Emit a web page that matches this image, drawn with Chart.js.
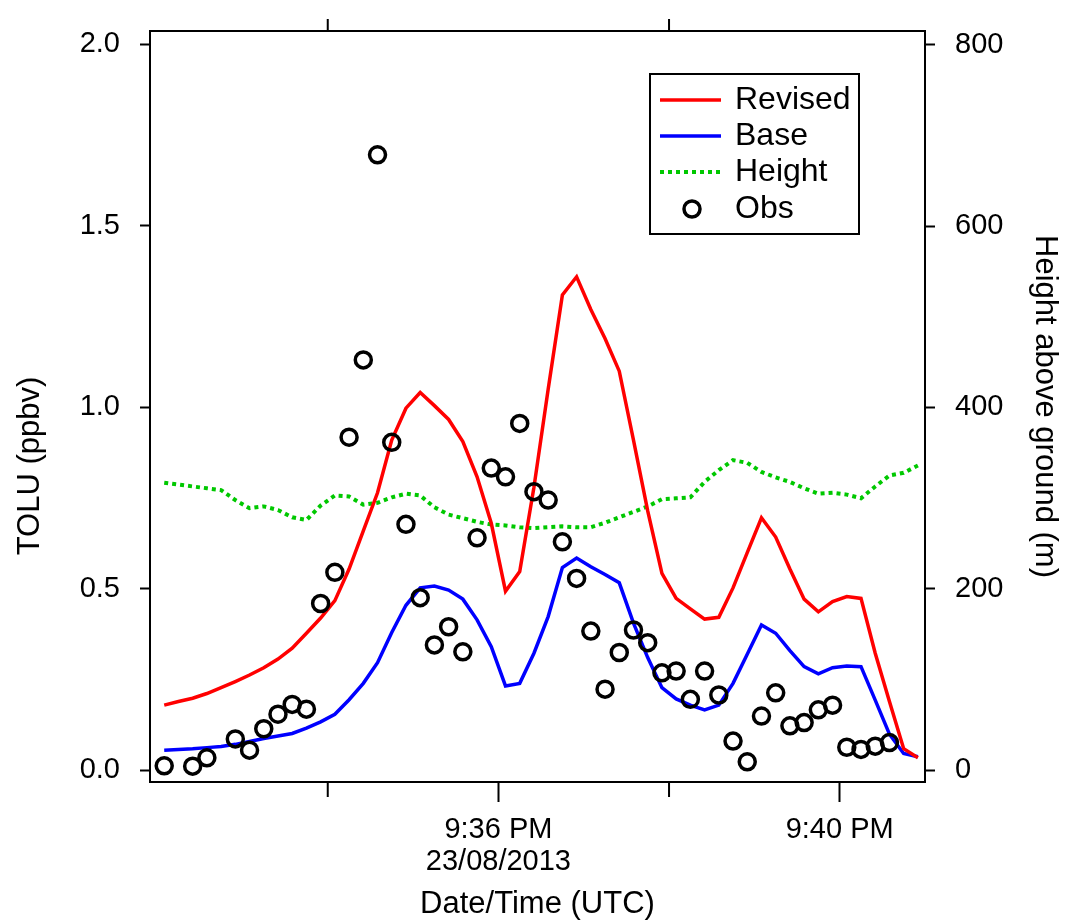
<!DOCTYPE html>
<html><head><meta charset="utf-8">
<script src="https://cdn.jsdelivr.net/npm/chart.js@4"></script>
<style>html,body{margin:0;padding:0;background:#fff;}#wrap{width:1067px;height:923px;position:relative;}</style>
</head><body><div id="wrap"><canvas id="c"></canvas></div>
<script>
// Time stamps (UTC, 23/08/2013)
const times = [
 "21:32:05","21:32:15","21:32:25","21:32:35","21:32:45","21:32:55",
 "21:33:05","21:33:15","21:33:25","21:33:35","21:33:45","21:33:55",
 "21:34:05","21:34:15","21:34:25","21:34:35","21:34:45","21:34:55",
 "21:35:05","21:35:15","21:35:25","21:35:35","21:35:45","21:35:55",
 "21:36:05","21:36:15","21:36:25","21:36:35","21:36:45","21:36:55",
 "21:37:05","21:37:15","21:37:25","21:37:35","21:37:45","21:37:55",
 "21:38:05","21:38:15","21:38:25","21:38:35","21:38:45","21:38:55",
 "21:39:05","21:39:15","21:39:25","21:39:35","21:39:45","21:39:55",
 "21:40:05","21:40:15","21:40:25","21:40:35","21:40:45","21:40:55"];
const obs = [0.013,null,0.012,0.035,null,0.087,0.056,0.115,0.155,0.182,
 0.169,0.46,0.546,0.918,1.131,1.696,0.904,0.678,0.476,0.346,
 0.396,0.327,0.641,0.833,0.809,0.956,0.768,0.745,0.630,0.529,
 0.384,0.224,0.325,0.387,0.352,0.269,0.274,0.196,0.274,0.208,
 0.081,0.024,0.150,0.214,0.123,0.132,0.167,0.180,0.064,0.058,
 0.067,0.077,null,null];
const revised = [0.180,0.190,0.199,0.212,0.228,0.245,0.263,0.283,0.307,0.337,
 0.378,0.420,0.468,0.555,0.660,0.765,0.910,0.998,1.041,1.005,
 0.967,0.906,0.809,0.681,0.494,0.548,0.780,1.050,1.310,1.360,
 1.270,1.190,1.100,0.910,0.715,0.543,0.474,0.445,0.417,0.422,
 0.503,0.600,0.696,0.643,0.555,0.472,0.437,0.465,0.479,0.474,
 0.323,0.190,0.060,0.035];
const base = [0.056,0.058,0.060,0.063,0.066,0.072,0.080,0.088,0.095,0.102,
 0.117,0.134,0.155,0.195,0.240,0.297,0.380,0.455,0.503,0.508,
 0.497,0.472,0.415,0.341,0.233,0.240,0.323,0.424,0.559,0.585,
 0.561,0.540,0.517,0.406,0.311,0.228,0.197,0.180,0.167,0.180,
 0.240,0.320,0.401,0.378,0.330,0.286,0.266,0.283,0.288,0.286,
 0.194,0.100,0.047,0.038];
const heightAGL = [317,315,313,311,309,298,289,291,287,279,
 276,292,303,302,293,295,301,305,303,290,
 282,278,274,271,270,268,267,268,269,268,
 268,273,279,285,291,299,300,301,318,331,
 342,339,329,323,318,311,305,306,304,300,
 313,325,328,336];
const xMajorTicks = ["21:36:00","21:40:00"];
const xMajorLabels = [["9:36 PM","23/08/2013"],["9:40 PM"]];
const xMinorTicks = ["21:34:00","21:38:00"];
const yLeftTicks = [0,0.5,1.0,1.5,2.0];
const yRightTicks = [0,200,400,600,800];
const yLeftTitle = 'TOLU (ppbv)';

const toSec = s => { const p = s.split(':').map(Number); return (p[0]-21)*3600 + (p[1]-30)*60 + p[2]; };
const xs = times.map(toSec);
const pts = arr => arr.map((v,i)=>({x:xs[i], y:v}));
const FONT = "'Liberation Sans', Arial, sans-serif";
Chart.defaults.font.family = FONT;
Chart.defaults.color = '#000';

const framePlugin = {
  id:'frame',
  afterDraw(chart){
    const {ctx, chartArea:a, scales} = chart;
    ctx.save();
    ctx.strokeStyle = '#000'; ctx.lineWidth = 2; ctx.setLineDash([]);
    ctx.strokeRect(a.left, a.top, a.right-a.left, a.bottom-a.top);
    ctx.beginPath();
    xMinorTicks.map(toSec).forEach(v=>{
      const px = scales.x.getPixelForValue(v);
      ctx.moveTo(px, a.bottom); ctx.lineTo(px, a.bottom+15);
      ctx.moveTo(px, a.top); ctx.lineTo(px, a.top-12);
    });
    ctx.stroke();
    // left axis title
    ctx.translate(30, 466); ctx.rotate(-Math.PI/2);
    ctx.fillStyle='#000'; ctx.font='31px '+FONT; ctx.textAlign='center'; ctx.textBaseline='middle';
    ctx.fillText(yLeftTitle, 0, 0);
    ctx.restore();
  }
};
const legendPlugin = {
  id:'boxLegend',
  afterDraw(chart){
    const ctx = chart.ctx;
    const bx=650, by=74, bw=209, bh=160;
    ctx.save();
    ctx.fillStyle='#fff'; ctx.fillRect(bx,by,bw,bh);
    ctx.strokeStyle='#000'; ctx.lineWidth=2; ctx.strokeRect(bx,by,bw,bh);
    const rows=[100,136,172,209];
    chart.data.datasets.forEach((ds,i)=>{
      const y=rows[i];
      ctx.setLineDash([]);
      if (ds.showLine===false){
        ctx.beginPath(); ctx.strokeStyle=ds.pointBorderColor; ctx.lineWidth=ds.pointBorderWidth;
        ctx.arc(692,y,ds.pointRadius,0,Math.PI*2); ctx.stroke();
      } else {
        ctx.beginPath(); ctx.strokeStyle=ds.borderColor; ctx.lineWidth=ds.borderWidth;
        ctx.setLineDash(ds.borderDash||[]);
        ctx.moveTo(660,y); ctx.lineTo(721,y); ctx.stroke();
      }
      ctx.setLineDash([]);
      ctx.fillStyle='#000'; ctx.font='32px '+FONT; ctx.textBaseline='middle'; ctx.textAlign='left';
      ctx.fillText(ds.label,735,y);
    });
    ctx.restore();
  }
};
const fitV = w => s => { s.width = w; s.paddingTop = 0; s.paddingBottom = 0; };

new Chart(document.getElementById('c'), {
  type:'line',
  data:{ datasets:[
    {label:'Revised', data:pts(revised), borderColor:'#ff0000', borderWidth:3.5, pointRadius:0, order:1, yAxisID:'y', tension:0},
    {label:'Base', data:pts(base), borderColor:'#0000ff', borderWidth:3.5, pointRadius:0, order:2, yAxisID:'y', tension:0},
    {label:'Height', data:pts(heightAGL), borderColor:'#00c800', borderWidth:4, borderDash:[4,4], pointRadius:0, order:3, yAxisID:'y1', tension:0},
    {label:'Obs', data:pts(obs), showLine:false, pointRadius:8, pointBorderWidth:3.5, pointBorderColor:'#000', pointBackgroundColor:'rgba(0,0,0,0)', borderColor:'#000', order:0, yAxisID:'y'}
  ]},
  options:{
    responsive:true, maintainAspectRatio:false, animation:false,
    layout:{padding:{top:31,left:0,right:0,bottom:0}},
    plugins:{legend:{display:false}, tooltip:{enabled:false}},
    scales:{
      x:{type:'linear', min:115, max:660,
        afterBuildTicks:s=>{s.ticks = xMajorTicks.map(t=>({value:toSec(t)}));},
        afterFit:s=>{s.height=141; s.paddingLeft=0; s.paddingRight=0;},
        ticks:{autoSkip:false, maxRotation:0, padding:12, font:{size:29, lineHeight:1.1},
          callback:(v)=>{const i = xMajorTicks.map(toSec).indexOf(v); return i>=0 ? xMajorLabels[i] : '';}},
        grid:{drawOnChartArea:false, tickLength:20, tickWidth:2, tickColor:'#000'},
        border:{display:false},
        title:{display:true, text:'Date/Time (UTC)', font:{size:31}, padding:0}
      },
      y:{position:'left', min:-0.0317, max:2.037,
        afterBuildTicks:s=>{s.ticks = yLeftTicks.map(v=>({value:v}));},
        afterFit:fitV(150),
        ticks:{padding:20, font:{size:29}, callback:v=>v.toFixed(1)},
        grid:{drawOnChartArea:false, tickLength:10, tickWidth:2, tickColor:'#000'},
        border:{display:false},
        title:{display:false}
      },
      y1:{position:'right', min:-12.7, max:814.9,
        afterBuildTicks:s=>{s.ticks = yRightTicks.map(v=>({value:v}));},
        afterFit:fitV(142),
        ticks:{padding:20, font:{size:29}, callback:v=>String(v)},
        grid:{drawOnChartArea:false, tickLength:10, tickWidth:2, tickColor:'#000'},
        border:{display:false},
        title:{display:true, text:'Height above ground (m)', font:{size:31}, padding:{top:4,bottom:0}}
      }
    }
  },
  plugins:[framePlugin, legendPlugin]
});
</script></body></html>
